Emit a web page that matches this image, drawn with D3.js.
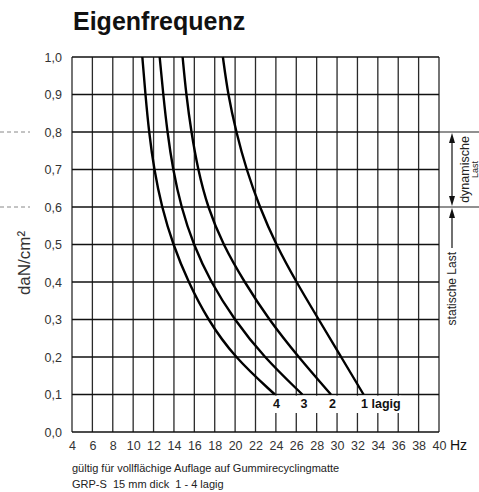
<!DOCTYPE html>
<html><head><meta charset="utf-8">
<script src="https://cdn.jsdelivr.net/npm/d3@7"></script>
<style>body{margin:0;background:#fff} svg{display:block}</style>
</head><body>
<svg id="c" width="479" height="492"></svg>
<script>
// ---- data ----
const loads = [1.0, 0.9, 0.8, 0.7, 0.6, 0.5, 0.4, 0.3, 0.2, 0.1];
const freq1 = [18.8, 19.3, 20.1, 21.1, 22.4, 24.0, 26.0, 28.2, 30.4, 32.6];
const freq2 = [14.85, 15.2, 15.7, 16.35, 17.3, 18.8, 20.9, 23.3, 26.2, 29.4];
const freq3 = [12.6, 12.95, 13.35, 13.9, 14.7, 15.9, 17.6, 19.9, 22.8, 26.6];
const freq4 = [10.9, 11.2, 11.55, 12.05, 12.8, 13.9, 15.4, 17.3, 19.9, 23.9];
const seriesLabels = ["1 lagig", "2", "3", "4"];
const xTicks = [4,6,8,10,12,14,16,18,20,22,24,26,28,30,32,34,36,38,40];
const yTicks = [0,0.1,0.2,0.3,0.4,0.5,0.6,0.7,0.8,0.9,1.0];
const title = "Eigenfrequenz";
const yTitle = "daN/cm²";
const xUnit = "Hz";
const note1 = "gültig für vollflächige Auflage auf Gummirecyclingmatte";
const note2 = "GRP-S  15 mm dick  1 - 4 lagig";
const dynLoad = [0.6, 0.8];

// ---- layout ----
const svg = d3.select("#c");
const x = d3.scaleLinear().domain([4, 40]).range([72, 439]);
const y = d3.scaleLinear().domain([0, 1]).range([432, 57]);
const locale = d3.formatLocale({decimal: ",", thousands: ".", grouping: [3], currency: ["", "€"]});
const fmtY = locale.format(".1f");
const font = "'Liberation Sans', Arial, sans-serif";

// title
svg.append("text").attr("x", 73).attr("y", 30)
  .attr("font-family", font).attr("font-weight", "bold").attr("font-size", 25)
  .attr("fill", "#111").text(title);

// grid
const g = svg.append("g");
g.selectAll("line.v").data(xTicks).join("line").attr("class", "v")
  .attr("x1", d => x(d)).attr("x2", d => x(d))
  .attr("y1", y(1)).attr("y2", y(0))
  .attr("stroke", "#2a2a2a").attr("stroke-width", 1.3);
g.selectAll("line.h").data(yTicks).join("line").attr("class", "h")
  .attr("x1", x(4)).attr("x2", x(40))
  .attr("y1", d => y(d)).attr("y2", d => y(d))
  .attr("stroke", "#111").attr("stroke-width", 1.4);

// extensions of dynamic-load boundaries
svg.selectAll("line.ext").data(dynLoad).join("line").attr("class", "ext")
  .attr("x1", x(40)).attr("x2", 479)
  .attr("y1", d => y(d)).attr("y2", d => y(d))
  .attr("stroke", "#222").attr("stroke-width", 1.2);
svg.selectAll("line.dash").data(dynLoad).join("line").attr("class", "dash")
  .attr("x1", 0).attr("x2", 30)
  .attr("y1", d => y(d)).attr("y2", d => y(d))
  .attr("stroke", "#888").attr("stroke-width", 1).attr("stroke-dasharray", "4,3");

// curves
const series = [freq1, freq2, freq3, freq4];
const line = d3.line().x(d => x(d[0])).y(d => y(d[1])).curve(d3.curveBasis);
svg.selectAll("path.curve").data(series).join("path").attr("class", "curve")
  .attr("d", s => line(s.map((f, i) => [f, loads[i]])))
  .attr("fill", "none").attr("stroke", "#000").attr("stroke-width", 2.4);

// label mask + labels
svg.append("rect").attr("x", x(23.3)).attr("y", y(0.1) + 1.2)
  .attr("width", x(36.3) - x(23.3)).attr("height", 413 - y(0.1) - 1.2).attr("fill", "#fff");
svg.selectAll("text.lbl").data(series).join("text").attr("class", "lbl")
  .attr("x", (s, i) => i === 0 ? x(s[s.length - 1]) - 2.5 : x(s[s.length - 1]) + 1.5)
  .attr("y", 408)
  .attr("text-anchor", (s, i) => i === 0 ? "start" : "middle")
  .attr("font-family", font).attr("font-weight", "bold").attr("font-size", 12.5)
  .attr("fill", "#111").text((s, i) => seriesLabels[i]);

// axes (labels only)
const ax = svg.append("g").attr("transform", `translate(0,${y(0)})`)
  .call(d3.axisBottom(x).tickValues(xTicks).tickSize(0).tickPadding(6).tickFormat(d3.format("d")));
ax.select(".domain").remove();
ax.selectAll("text").attr("font-family", font).attr("font-size", 12.5).attr("fill", "#333").attr("dy", "0.95em");
const ay = svg.append("g").attr("transform", `translate(${x(4)},0)`)
  .call(d3.axisLeft(y).tickValues(yTicks).tickSize(0).tickPadding(10).tickFormat(fmtY));
ay.select(".domain").remove();
ay.selectAll("text").attr("font-family", font).attr("font-size", 12.5).attr("fill", "#333");

svg.append("text").attr("x", 450).attr("y", 450)
  .attr("font-family", font).attr("font-size", 14).attr("fill", "#111").text(xUnit);

svg.append("text").attr("transform", "translate(30,263) rotate(-90)")
  .attr("text-anchor", "middle").attr("font-family", font).attr("font-size", 17)
  .attr("fill", "#333").text(yTitle);

// notes
svg.append("text").attr("x", 72).attr("y", 472).attr("font-family", font)
  .attr("font-size", 11).attr("fill", "#222").text(note1);
svg.append("text").attr("x", 72).attr("y", 488).attr("font-family", font)
  .attr("font-size", 11).attr("fill", "#222").style("white-space", "pre").text(note2);

// right annotation
const ax0 = 452;
const yTop = y(dynLoad[1]), yBot = y(dynLoad[0]);
svg.append("line").attr("x1", ax0).attr("x2", ax0).attr("y1", yTop + 6).attr("y2", yBot - 6)
  .attr("stroke", "#111").attr("stroke-width", 1.2);
const head = (tipY, dir) => `M${ax0},${tipY} L${ax0 - 3},${tipY + dir * 10} L${ax0 + 3},${tipY + dir * 10} Z`;
svg.append("path").attr("d", head(yTop + 1, 1)).attr("fill", "#111");
svg.append("path").attr("d", head(yBot - 1, -1)).attr("fill", "#111");
svg.append("path").attr("d", head(yBot + 1, 1)).attr("fill", "#111");
svg.append("line").attr("x1", ax0).attr("x2", ax0).attr("y1", yBot + 8).attr("y2", 248)
  .attr("stroke", "#111").attr("stroke-width", 1.2);
svg.append("text").attr("transform", "translate(456,252) rotate(-90)")
  .attr("text-anchor", "end").attr("font-family", font).attr("font-size", 12).attr("fill", "#222")
  .text("statische Last");
const mid = (yTop + yBot) / 2;
svg.append("text").attr("transform", `translate(469,${mid}) rotate(-90)`)
  .attr("text-anchor", "middle").attr("font-family", font).attr("font-size", 12.5).attr("fill", "#222")
  .text("dynamische");
svg.append("text").attr("transform", `translate(478,${mid}) rotate(-90)`)
  .attr("text-anchor", "middle").attr("font-family", font).attr("font-size", 9).attr("fill", "#222")
  .text("Last");
</script>
</body></html>
